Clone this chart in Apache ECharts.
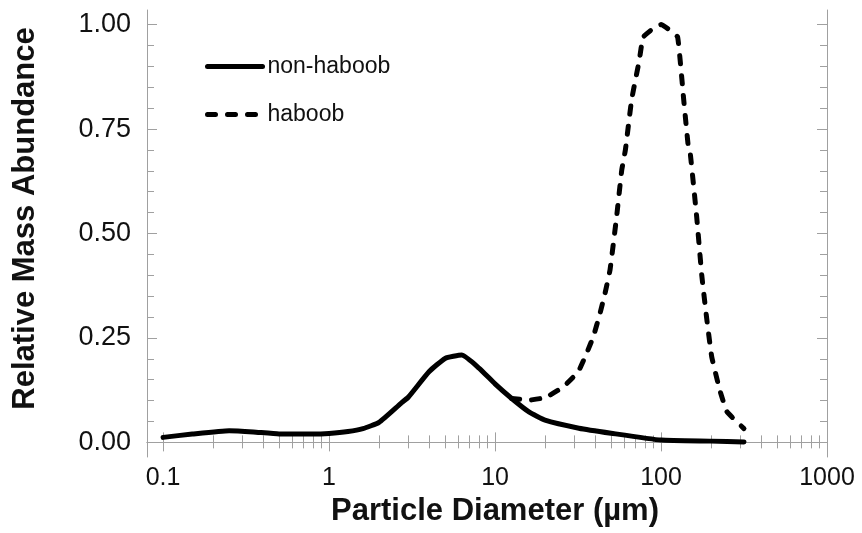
<!DOCTYPE html>
<html>
<head>
<meta charset="utf-8">
<script src="https://cdn.jsdelivr.net/npm/echarts@6/dist/echarts.min.js"></script>
<style>
html,body{margin:0;padding:0;background:#fff;}
#chart{width:862px;height:533px;}
</style>
</head>
<body>
<div id="chart"></div>
<script>
// Data
const nonHaboobD = [0.1, 0.15, 0.25, 0.35, 0.5, 0.8, 1.0, 1.3, 1.6, 2.0, 2.7, 3.0, 4.0, 5.0, 6.3, 8.0, 10, 12.6, 16, 20, 32, 50, 100, 200, 316];
const nonHaboobV = [0.012, 0.02, 0.028, 0.025, 0.02, 0.02, 0.0215, 0.026, 0.033, 0.048, 0.093, 0.108, 0.169, 0.201, 0.209, 0.178, 0.14, 0.105, 0.073, 0.053, 0.034, 0.022, 0.0055, 0.003, 0.001];

const haboobD = [12.6, 16, 18.7, 21.4, 25.8, 31.7, 35.6, 39.1, 42.9, 46, 49.3, 54, 58, 61, 66.5, 74, 78, 90, 100, 113, 126, 137, 146, 150, 164, 176, 188, 202, 226, 250, 316];
const haboobV = [0.105, 0.101, 0.105, 0.113, 0.133, 0.169, 0.213, 0.253, 0.309, 0.357, 0.413, 0.54, 0.652, 0.70, 0.82, 0.915, 0.97, 0.991, 1.0, 0.987, 0.97, 0.82, 0.708, 0.692, 0.54, 0.40, 0.30, 0.205, 0.125, 0.073, 0.033];

const xMajorTicks = [0.1, 1, 10, 100, 1000];
const xMinorTicks = [0.2, 0.3, 0.4, 0.5, 0.6, 0.7, 0.8, 0.9, 2, 3, 4, 5, 6, 7, 8, 9, 20, 30, 40, 50, 60, 70, 80, 90, 200, 300, 400, 500, 600, 700, 800, 900];
const yMajorTicks = [0, 0.25, 0.5, 0.75, 1.0];
const yMinorTicks = [0.05, 0.1, 0.15, 0.2, 0.3, 0.35, 0.4, 0.45, 0.55, 0.6, 0.65, 0.7, 0.8, 0.85, 0.9, 0.95];

const seriesNames = ['non-haboob', 'haboob'];
const xTitle = 'Particle Diameter (µm)';
const yTitle = 'Relative Mass Abundance';

const FONT = 'Liberation Sans, Arial, Helvetica, sans-serif';
const AXIS_COLOR = '#a0a0a0';

function pairs(d, v) { return d.map((x, i) => [x, v[i]]); }

function xAxisDef(position, ticks, len, showLabel, showLine, extra) {
  return Object.assign({
    type: 'log', logBase: 10, min: 0.08, max: 1000, position: position,
    axisLine: { show: showLine, lineStyle: { color: AXIS_COLOR, width: 1 } },
    axisTick: { show: true, inside: true, length: len, customValues: ticks, lineStyle: { color: AXIS_COLOR, width: 1 } },
    axisLabel: showLabel ? {
      show: true, customValues: ticks, margin: 9, color: '#111', fontSize: 25, fontFamily: FONT,
      formatter: function (v) { return String(v); }
    } : { show: false },
    splitLine: { show: false }, minorTick: { show: false }
  }, extra || {});
}
function yAxisDef(position, ticks, len, showLabel, showLine, extra) {
  return Object.assign({
    type: 'value', min: -0.035, max: 1.035, position: position,
    axisLine: { show: showLine, lineStyle: { color: AXIS_COLOR, width: 1 } },
    axisTick: { show: true, inside: true, length: len, customValues: ticks, lineStyle: { color: AXIS_COLOR, width: 1 } },
    axisLabel: showLabel ? {
      show: true, customValues: ticks, margin: 16, color: '#111', fontSize: 27, fontFamily: FONT,
      formatter: function (v) { return v.toFixed(2); }
    } : { show: false },
    splitLine: { show: false }
  }, extra || {});
}

const chart = echarts.init(document.getElementById('chart'), null, { renderer: 'canvas' });
chart.setOption({
  animation: false,
  backgroundColor: '#fff',
  grid: { left: 147, top: 10, right: 35, bottom: 76, containLabel: false },
  legend: {
    data: seriesNames, orient: 'vertical', left: 200, top: 50,
    itemWidth: 55, itemHeight: 24, itemGap: 25,
    itemStyle: { color: 'rgba(0,0,0,0)', borderWidth: 0, opacity: 0 },
    lineStyle: { width: 5, cap: 'round' },
    textStyle: { fontSize: 23, color: '#111', fontFamily: FONT }
  },
  xAxis: [
    xAxisDef('bottom', xMajorTicks, 10, true, true, {
      name: xTitle, nameLocation: 'middle', nameGap: 27,
      nameTextStyle: { fontSize: 31, fontWeight: 'bold', color: '#111', fontFamily: FONT, padding: [0, 0, 0, 16] }
    }),
    xAxisDef('bottom', xMinorTicks, 7, false, false),
    xAxisDef('top', xMajorTicks, 9, false, true),
    xAxisDef('top', xMinorTicks, 6, false, false)
  ],
  yAxis: [
    yAxisDef('left', yMajorTicks, 10, true, true, {
      name: yTitle, nameLocation: 'middle', nameGap: 106,
      nameTextStyle: { fontSize: 31, fontWeight: 'bold', color: '#111', fontFamily: FONT, padding: [0, 0, 0, 30] }
    }),
    yAxisDef('left', yMinorTicks, 7, false, false),
    yAxisDef('right', yMajorTicks, 10, false, true),
    yAxisDef('right', yMinorTicks, 7, false, false)
  ],
  series: [
    {
      name: seriesNames[0], type: 'line', xAxisIndex: 0, yAxisIndex: 0,
      data: pairs(nonHaboobD, nonHaboobV), symbol: 'none', smooth: 0.15,
      lineStyle: { color: '#000', width: 5, cap: 'round', join: 'round' },
      itemStyle: { color: '#000' }, z: 3
    },
    {
      name: seriesNames[1], type: 'line', xAxisIndex: 0, yAxisIndex: 0,
      data: pairs(haboobD, haboobV), symbol: 'none', smooth: 0.1,
      lineStyle: { color: '#000', width: 5, type: [8, 12], cap: 'round', join: 'round' },
      itemStyle: { color: '#000' }, z: 2
    }
  ]
});
</script>
</body>
</html>
